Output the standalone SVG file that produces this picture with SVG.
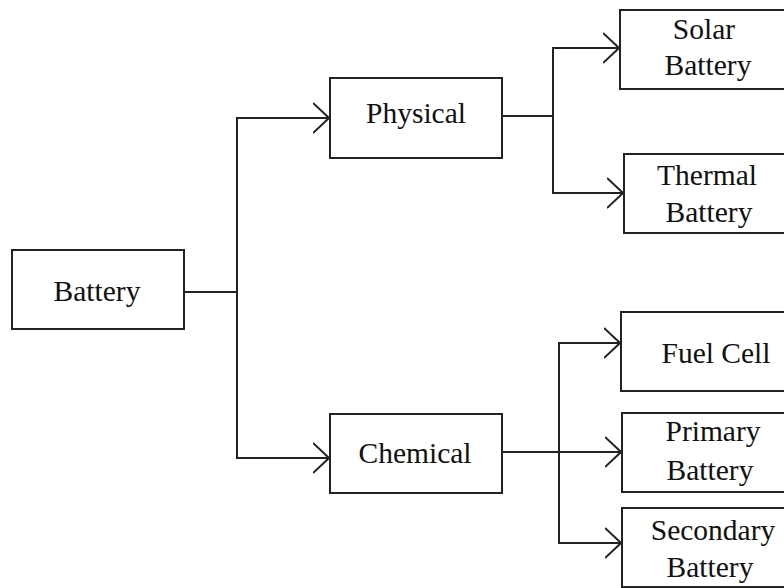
<svg xmlns="http://www.w3.org/2000/svg" width="784" height="588" viewBox="0 0 784 588">
<style>
.box{fill:#fff;stroke:#222;stroke-width:2}
.lbl{font-family:"Liberation Serif","Times New Roman",serif;font-size:29.5px;fill:#111;text-anchor:middle}
.con{fill:none;stroke:#222;stroke-width:2}
</style>
<defs>
<marker id="arr" markerUnits="userSpaceOnUse" viewBox="0 0 17 32" refX="16" refY="16" markerWidth="17" markerHeight="32" orient="auto">
<path d="M0,1 L16,16 L0,31" fill="none" stroke="#222" stroke-width="2"/>
</marker>
</defs>
<rect width="784" height="588" fill="#fff"/>
<g id="connectors">
<path class="con" d="M184,292 H237 V118 H329" marker-end="url(#arr)"/>
<path class="con" d="M237,292 V458 H329" marker-end="url(#arr)"/>
<path class="con" d="M502,116 H553 V48 H619" marker-end="url(#arr)"/>
<path class="con" d="M553,116 V193 H623" marker-end="url(#arr)"/>
<path class="con" d="M502,452 H559 V343 H620" marker-end="url(#arr)"/>
<path class="con" d="M559,452 H621" marker-end="url(#arr)"/>
<path class="con" d="M559,452 V543 H621" marker-end="url(#arr)"/>
</g>
<g id="battery"><rect class="box" x="12" y="250" width="172" height="79"/><text class="lbl" x="97" y="301">Battery</text></g>
<g id="physical"><rect class="box" x="330" y="78" width="172" height="80"/><text class="lbl" x="416" y="123">Physical</text></g>
<g id="chemical"><rect class="box" x="330" y="414" width="172" height="79"/><text class="lbl" x="415" y="463">Chemical</text></g>
<g id="solar"><rect class="box" x="620" y="10" width="180" height="79"/><text class="lbl" x="704" y="39">Solar</text><text class="lbl" x="708" y="75">Battery</text></g>
<g id="thermal"><rect class="box" x="624" y="154" width="180" height="79"/><text class="lbl" x="707" y="185">Thermal</text><text class="lbl" x="709" y="222">Battery</text></g>
<g id="fuelcell"><rect class="box" x="621" y="312" width="180" height="79"/><text class="lbl" x="716" y="363">Fuel Cell</text></g>
<g id="primary"><rect class="box" x="622" y="413" width="180" height="79"/><text class="lbl" x="713" y="441">Primary</text><text class="lbl" x="710" y="480">Battery</text></g>
<g id="secondary"><rect class="box" x="622" y="508" width="180" height="79"/><text class="lbl" x="713" y="540">Secondary</text><text class="lbl" x="710" y="577">Battery</text></g>
</svg>
